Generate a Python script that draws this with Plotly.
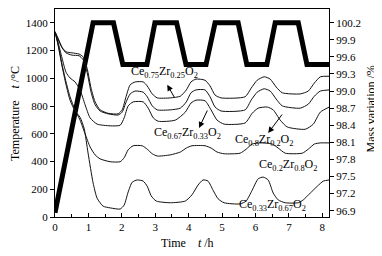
import plotly.graph_objects as go

# Temperature programme (left axis, deg C)
temp_t = [0, 1.14, 1.75, 2.03, 2.75, 2.99, 3.64, 3.92, 4.52, 4.79, 5.48, 5.74, 6.34, 6.59, 7.28, 7.54, 8.2]
temp_v = [30, 1400, 1400, 1100, 1100, 1400, 1400, 1100, 1100, 1400, 1400, 1100, 1100, 1400, 1400, 1100, 1100]

# Mass variation curves (right axis, %)
a_t = [0.00, 0.09, 0.21, 0.33, 0.51, 0.72, 0.84, 0.96, 1.08, 1.20, 1.35, 1.59, 1.89, 2.01, 2.13, 2.25, 2.40, 2.64, 2.76, 2.91,
       3.06, 3.45, 3.75, 3.93, 4.07, 4.22, 4.49, 4.64, 4.79, 4.97, 5.69, 5.87, 6.05, 6.26, 6.44, 6.62, 6.80, 7.34, 7.58, 7.76, 7.94, 8.21]
a_m = [100.04, 99.93, 99.77, 99.69, 99.67, 99.65, 99.60, 99.40, 99.05, 98.81, 98.67, 98.61, 98.60, 98.67, 98.91, 99.11, 99.16, 99.16, 99.09, 98.95,
       98.88, 98.88, 98.91, 99.02, 99.16, 99.21, 99.19, 99.09, 98.93, 98.88, 98.90, 99.05, 99.19, 99.25, 99.21, 99.07, 98.97, 98.95, 99.00, 99.14, 99.25, 99.26]

b_t = a_t
b_m = [100.04, 99.91, 99.76, 99.67, 99.63, 99.62, 99.55, 99.33, 98.98, 98.76, 98.65, 98.60, 98.58, 98.63, 98.81, 98.95, 99.00, 98.98, 98.90, 98.74,
       98.67, 98.67, 98.70, 98.81, 98.97, 99.02, 99.02, 98.90, 98.72, 98.65, 98.67, 98.84, 98.98, 99.04, 99.00, 98.86, 98.74, 98.70, 98.77, 98.91, 99.00, 99.02]

c_t = [0.00, 0.09, 0.21, 0.33, 0.45, 0.60, 0.75, 0.90, 1.05, 1.26, 1.65, 1.95, 2.07, 2.19, 2.34, 2.64, 2.79, 2.94, 3.09, 3.60,
       3.90, 4.07, 4.22, 4.49, 4.67, 4.85, 5.06, 5.69, 5.90, 6.08, 6.35, 6.53, 6.74, 6.95, 7.49, 7.73, 7.94, 8.21]
c_m = [100.04, 99.86, 99.58, 99.33, 99.23, 99.16, 99.02, 98.76, 98.53, 98.42, 98.39, 98.40, 98.53, 98.74, 98.81, 98.81, 98.70, 98.53, 98.47, 98.49,
       98.63, 98.79, 98.84, 98.83, 98.67, 98.49, 98.42, 98.44, 98.61, 98.70, 98.72, 98.67, 98.49, 98.37, 98.33, 98.42, 98.63, 98.72]

d_t = [0.00, 0.09, 0.21, 0.33, 0.45, 0.60, 0.75, 0.90, 1.05, 1.20, 1.35, 1.65, 1.95, 2.07, 2.19, 2.34, 2.61, 2.76, 2.91, 3.06,
       3.45, 3.75, 3.93, 4.10, 4.49, 4.67, 4.85, 5.06, 5.54, 5.72, 5.90, 6.14, 6.50, 6.68, 6.89, 7.40, 7.58, 7.76, 7.94, 8.21]
d_m = [100.04, 99.83, 99.47, 99.16, 98.90, 98.67, 98.49, 98.25, 98.02, 97.88, 97.81, 97.76, 97.76, 97.83, 97.97, 98.04, 98.04, 97.98, 97.90, 97.86,
       97.88, 97.93, 98.00, 98.04, 98.04, 98.00, 97.93, 97.90, 97.91, 97.98, 98.07, 98.09, 98.07, 98.00, 97.91, 97.91, 97.98, 98.07, 98.09, 98.09]

e_t = [0.00, 0.09, 0.21, 0.33, 0.45, 0.60, 0.75, 0.87, 0.99, 1.14, 1.26, 1.44, 1.65, 1.95, 2.07, 2.19, 2.31, 2.46, 2.64, 2.76,
       2.88, 3.03, 3.45, 3.90, 4.10, 4.28, 4.43, 4.58, 4.73, 4.88, 5.06, 5.54, 5.72, 5.90, 6.08, 6.23, 6.38, 6.53, 6.68, 6.89,
       7.28, 7.43, 7.64, 7.85, 8.03, 8.21]
e_m = [100.04, 99.81, 99.44, 99.11, 98.84, 98.65, 98.54, 98.35, 97.91, 97.39, 97.12, 96.98, 96.95, 96.93, 97.00, 97.23, 97.40, 97.44, 97.42, 97.33,
       97.16, 97.07, 97.04, 97.07, 97.18, 97.35, 97.44, 97.42, 97.26, 97.11, 97.04, 97.02, 97.07, 97.26, 97.46, 97.49, 97.44, 97.21, 97.09, 97.04,
       97.04, 97.09, 97.21, 97.33, 97.42, 97.44]

labels = ["Ce<sub>0.75</sub>Zr<sub>0.25</sub>O<sub>2</sub>",
          "Ce<sub>0.67</sub>Zr<sub>0.33</sub>O<sub>2</sub>",
          "Ce<sub>0.8</sub>Zr<sub>0.2</sub>O<sub>2</sub>",
          "Ce<sub>0.2</sub>Zr<sub>0.8</sub>O<sub>2</sub>",
          "Ce<sub>0.33</sub>Zr<sub>0.67</sub>O<sub>2</sub>"]

x_title = "Time    <i>t</i> /h"
y_title = "Temperature    <i>t</i> /°C"
y2_title = "Mass variation /%"

FONT = "Liberation Serif"
fig = go.Figure()

for t, m in [(a_t, a_m), (b_t, b_m), (c_t, c_m), (d_t, d_m), (e_t, e_m)]:
    fig.add_trace(go.Scatter(x=t, y=m, yaxis="y2", mode="lines",
                             line=dict(color="#111", width=1, shape="spline", smoothing=0.6),
                             showlegend=False, hoverinfo="skip"))

fig.add_trace(go.Scatter(x=temp_t, y=temp_v, mode="lines",
                         line=dict(color="black", width=5), showlegend=False))

# label positions (hours, deg C on left scale)
lab_pos = [(3.27, 1046), (3.96, 606), (6.24, 556), (6.97, 375), (6.50, 87)]
for txt, (lx, ly) in zip(labels, lab_pos):
    fig.add_annotation(x=lx, y=ly, xref="x", yref="y", text=txt, showarrow=False,
                       font=dict(family=FONT, size=12, color="black"))

arrows = [((3.36, 953), (3.60, 851)), ((4.31, 642), (4.58, 779)), ((6.38, 606), (6.83, 750))]
for (hx, hy), (tx, ty) in arrows:
    fig.add_annotation(x=hx, y=hy, ax=tx, ay=ty, xref="x", yref="y", axref="x", ayref="y",
                       text="", showarrow=True, arrowhead=2, arrowsize=1.2, arrowwidth=1,
                       arrowcolor="black")

# axis titles
fig.add_annotation(x=0.485, y=-0.125, xref="paper", yref="paper", text=x_title, showarrow=False,
                   font=dict(family=FONT, size=12, color="black"), xanchor="center", yanchor="middle")
fig.add_annotation(x=-0.146, y=0.5, xref="paper", yref="paper", text=y_title, showarrow=False,
                   textangle=-90, font=dict(family=FONT, size=12, color="black"),
                   xanchor="center", yanchor="middle")
fig.add_annotation(x=1.152, y=0.52, xref="paper", yref="paper", text=y2_title, showarrow=False,
                   textangle=-90, font=dict(family=FONT, size=12, color="black"),
                   xanchor="center", yanchor="middle")

axis_common = dict(showline=True, linecolor="black", linewidth=1, showgrid=False, zeroline=False,
                   automargin=False,
                   tickfont=dict(family=FONT, size=11, color="black"), ticklen=4, tickcolor="black")

# page body adds an 8px offset; the figure is sized to fill the rest of the 382x256 window
fig.update_layout(
    width=374, height=248,
    margin=dict(l=47, r=53, t=1, b=39),
    paper_bgcolor="white", plot_bgcolor="white",
    font=dict(family=FONT, size=12, color="black"),
    xaxis=dict(range=[0, 8.2], dtick=1, ticks="inside", mirror=True,
               minor=dict(dtick=0.5, ticks="inside", ticklen=3, tickcolor="black"),
               **axis_common),
    yaxis=dict(range=[0, 1500], dtick=200, ticks="outside", **axis_common),
    yaxis2=dict(range=[96.79, 100.44], tick0=96.9, dtick=0.3, tickformat=".1f", ticks="outside",
                overlaying="y", side="right", **axis_common),
)

fig.write_html("out.html")
